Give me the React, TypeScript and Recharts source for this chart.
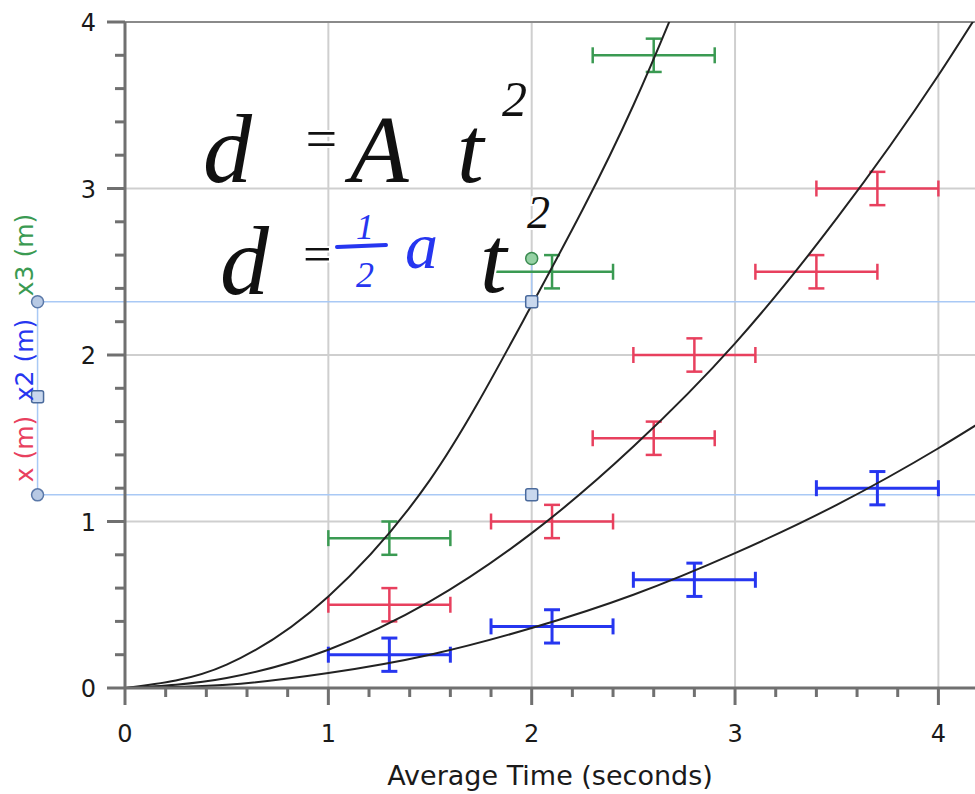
import {
  ComposedChart,
  Line,
  Scatter,
  ErrorBar,
  XAxis,
  YAxis,
  ReferenceLine,
  ReferenceDot,
} from "recharts";

// measured runs, one array per cart
const redTime = [1.3, 2.1, 2.6, 2.8, 3.4, 3.7];
const redDist = [0.5, 1.0, 1.5, 2.0, 2.5, 3.0];
const blueTime = [1.3, 2.1, 2.8, 3.7];
const blueDist = [0.2, 0.37, 0.65, 1.2];
const greenTime = [1.3, 2.1, 2.6];
const greenDist = [0.9, 2.5, 3.8];
const timeErr = 0.3;
const distErr = 0.1;

// fitted d = A t^2 curves
const greenFitTime = [0, 0.5, 1, 1.5, 2, 2.5, 3];
const greenFit = [0, 0.14, 0.55, 1.25, 2.3, 3.5, 5.0];
const fitTime = [0, 0.5, 1, 1.5, 2, 2.5, 3, 3.5, 4, 4.2];
const redFit = [0, 0.06, 0.23, 0.52, 0.93, 1.45, 2.07, 2.82, 3.68, 4.06];
const blueFit = [0, 0.02, 0.09, 0.2, 0.36, 0.56, 0.81, 1.1, 1.44, 1.59];

const xTicks = [0, 0.2, 0.4, 0.6, 0.8, 1, 1.2, 1.4, 1.6, 1.8, 2, 2.2, 2.4, 2.6, 2.8, 3, 3.2, 3.4, 3.6, 3.8, 4];
const yTicks = [0, 0.2, 0.4, 0.6, 0.8, 1, 1.2, 1.4, 1.6, 1.8, 2, 2.2, 2.4, 2.6, 2.8, 3, 3.2, 3.4, 3.6, 3.8, 4];
const gridX = [1, 2, 3, 4];
const gridY = [1, 2, 3];

// examine cursor left on the graph
const cursorLeft = -0.43;
const cursorTime = 2.0;
const cursorLevels = [2.32, 1.16];
const leftSquare = 1.75;
const greenMark = 2.58;

const RED = "#e8405e";
const BLUE = "#2636f0";
const GREEN = "#3a9a52";
const AXIS = "#707070";
const CURSOR = "#a9c9f5";
const FONT = "DejaVu Sans, sans-serif";

const rows = (ts: number[], ds: number[]) =>
  ts.map((t, i) => ({ t, d: ds[i], te: timeErr, de: distErr }));
const fit = (ts: number[], ds: number[]) => ts.map((t, i) => ({ t, d: ds[i] }));

const isMajor = (v: number) => Math.abs(v - Math.round(v)) < 1e-6;

const XTick = (props: any) => {
  const { x, y, payload } = props;
  const major = isMajor(payload.value);
  return (
    <g>
      <line x1={x} x2={x} y1={y} y2={y + (major ? 17 : 9)} stroke={AXIS} strokeWidth={3} />
      {major && (
        <text x={x} y={y + 54} textAnchor="middle" fontSize={24} fontFamily={FONT} fill="#1a1a1a">
          {Math.round(payload.value)}
        </text>
      )}
    </g>
  );
};

const YTick = (props: any) => {
  const { x, y, payload } = props;
  const major = isMajor(payload.value);
  return (
    <g>
      <line x1={x - (major ? 18 : 10)} x2={x} y1={y} y2={y} stroke={AXIS} strokeWidth={3} />
      {major && (
        <text x={x - 29} y={y + 9} textAnchor="end" fontSize={24} fontFamily={FONT} fill="#1a1a1a">
          {Math.round(payload.value)}
        </text>
      )}
    </g>
  );
};

const noDot = () => <g />;

const circleMark = (fill: string, stroke: string) => (p: any) =>
  <circle cx={p.cx} cy={p.cy} r={6} fill={fill} stroke={stroke} strokeWidth={1.5} />;
const squareMark = (p: any) => (
  <rect x={p.cx - 6} y={p.cy - 6} width={12} height={12} rx={2} fill="#c9d8ee" stroke="#4a6a9c" strokeWidth={1.5} />
);

export default function App() {
  return (
    <div style={{ position: "absolute", left: 0, top: 0, width: 975, height: 794, background: "#fff" }}>
      <ComposedChart width={975} height={794} margin={{ top: 22, right: 0, bottom: 0, left: 0 }}>
        <XAxis
          type="number"
          dataKey="t"
          domain={[0, 4.18]}
          allowDataOverflow
          ticks={xTicks}
          interval={0}
          tick={XTick}
          tickLine={false}
          tickSize={0}
          tickMargin={0}
          height={106}
          axisLine={{ stroke: AXIS, strokeWidth: 3 }}
          label={{ value: "Average Time (seconds)", position: "insideBottom", offset: 9, fontSize: 27, fontFamily: FONT, fill: "#1a1a1a" }}
        />
        <YAxis
          type="number"
          dataKey="d"
          domain={[0, 4]}
          allowDataOverflow
          ticks={yTicks}
          interval={0}
          tick={YTick}
          tickLine={false}
          tickSize={0}
          tickMargin={0}
          width={125}
          axisLine={{ stroke: AXIS, strokeWidth: 3 }}
        />
        {gridX.map((v) => (
          <ReferenceLine key={"gx" + v} x={v} stroke="#cfcfcf" strokeWidth={2} />
        ))}
        {gridY.map((v) => (
          <ReferenceLine key={"gy" + v} y={v} stroke="#cfcfcf" strokeWidth={2} />
        ))}
        <ReferenceLine y={4} stroke="#8a8a8a" strokeWidth={2} />

        {cursorLevels.map((v) => (
          <ReferenceLine
            key={"cl" + v}
            segment={[{ x: cursorLeft, y: v }, { x: 4.18, y: v }]}
            ifOverflow="visible"
            stroke={CURSOR}
            strokeWidth={1.5}
          />
        ))}
        <ReferenceLine
          segment={[{ x: cursorLeft, y: cursorLevels[1] }, { x: cursorLeft, y: cursorLevels[0] }]}
          ifOverflow="visible"
          stroke={CURSOR}
          strokeWidth={1.5}
        />
        <ReferenceLine
          segment={[{ x: cursorTime, y: cursorLevels[0] }, { x: cursorTime, y: greenMark }]}
          ifOverflow="visible"
          stroke={CURSOR}
          strokeWidth={1.5}
        />

        <Scatter data={rows(redTime, redDist)} dataKey="d" shape={noDot} isAnimationActive={false}>
          <ErrorBar dataKey="te" direction="x" width={8} stroke={RED} strokeWidth={2.5} />
          <ErrorBar dataKey="de" direction="y" width={8} stroke={RED} strokeWidth={2.5} />
        </Scatter>
        <Scatter data={rows(blueTime, blueDist)} dataKey="d" shape={noDot} isAnimationActive={false}>
          <ErrorBar dataKey="te" direction="x" width={8} stroke={BLUE} strokeWidth={3} />
          <ErrorBar dataKey="de" direction="y" width={8} stroke={BLUE} strokeWidth={3} />
        </Scatter>
        <Scatter data={rows(greenTime, greenDist)} dataKey="d" shape={noDot} isAnimationActive={false}>
          <ErrorBar dataKey="te" direction="x" width={8} stroke={GREEN} strokeWidth={2.5} />
          <ErrorBar dataKey="de" direction="y" width={8} stroke={GREEN} strokeWidth={2.5} />
        </Scatter>

        <Line data={fit(greenFitTime, greenFit)} dataKey="d" type="monotone" stroke="#222" strokeWidth={2} dot={false} isAnimationActive={false} />
        <Line data={fit(fitTime, redFit)} dataKey="d" type="monotone" stroke="#222" strokeWidth={2} dot={false} isAnimationActive={false} />
        <Line data={fit(fitTime, blueFit)} dataKey="d" type="monotone" stroke="#222" strokeWidth={2} dot={false} isAnimationActive={false} />

        <ReferenceDot x={cursorLeft} y={cursorLevels[0]} ifOverflow="visible" shape={circleMark("#b7c9e4", "#5a78a8")} />
        <ReferenceDot x={cursorLeft} y={leftSquare} ifOverflow="visible" shape={squareMark} />
        <ReferenceDot x={cursorLeft} y={cursorLevels[1]} ifOverflow="visible" shape={circleMark("#b7c9e4", "#5a78a8")} />
        <ReferenceDot x={cursorTime} y={greenMark} ifOverflow="visible" shape={circleMark("#95d1a4", "#3a8a50")} />
        <ReferenceDot x={cursorTime} y={cursorLevels[0]} ifOverflow="visible" shape={squareMark} />
        <ReferenceDot x={cursorTime} y={cursorLevels[1]} ifOverflow="visible" shape={squareMark} />
      </ComposedChart>

      {/* axis titles and the handwritten notes on top */}
      <svg width={975} height={794} style={{ position: "absolute", left: 0, top: 0, pointerEvents: "none" }}>
        <g fontFamily={FONT} fontSize={25} textAnchor="middle">
          <text transform="translate(33,449) rotate(-90)" fill={RED}>x (m)</text>
          <text transform="translate(33,360) rotate(-90)" fill={BLUE}>x2 (m)</text>
          <text transform="translate(33,255) rotate(-90)" fill={GREEN}>x3 (m)</text>
        </g>
        <g fontFamily="Liberation Serif, serif" fontStyle="italic" stroke="#fff" strokeWidth={4} paintOrder="stroke">
          <text x={203} y={182} fontSize={98} fill="#111">d</text>
          <text x={302} y={158} fontSize={56} fill="#111">=</text>
          <text x={350} y={182} fontSize={96} fill="#111">A</text>
          <text x={457} y={182} fontSize={96} fill="#111">t</text>
          <text x={502} y={116} fontSize={50} fill="#111">2</text>
          <text x={220} y={294} fontSize={98} fill="#111">d</text>
          <text x={300} y={271} fontSize={50} fill="#111">=</text>
          <text x={356} y={239} fontSize={36} fill={BLUE}>1</text>
          <text x={356} y={287} fontSize={36} fill={BLUE}>2</text>
          <text x={405} y={268} fontSize={66} fill={BLUE}>a</text>
          <text x={480} y={292} fontSize={96} fill="#111">t</text>
          <text x={527} y={228} fontSize={46} fill="#111">2</text>
        </g>
        <line x1={337} y1={247} x2={386} y2={245} stroke={BLUE} strokeWidth={4} strokeLinecap="round" />
      </svg>
    </div>
  );
}
